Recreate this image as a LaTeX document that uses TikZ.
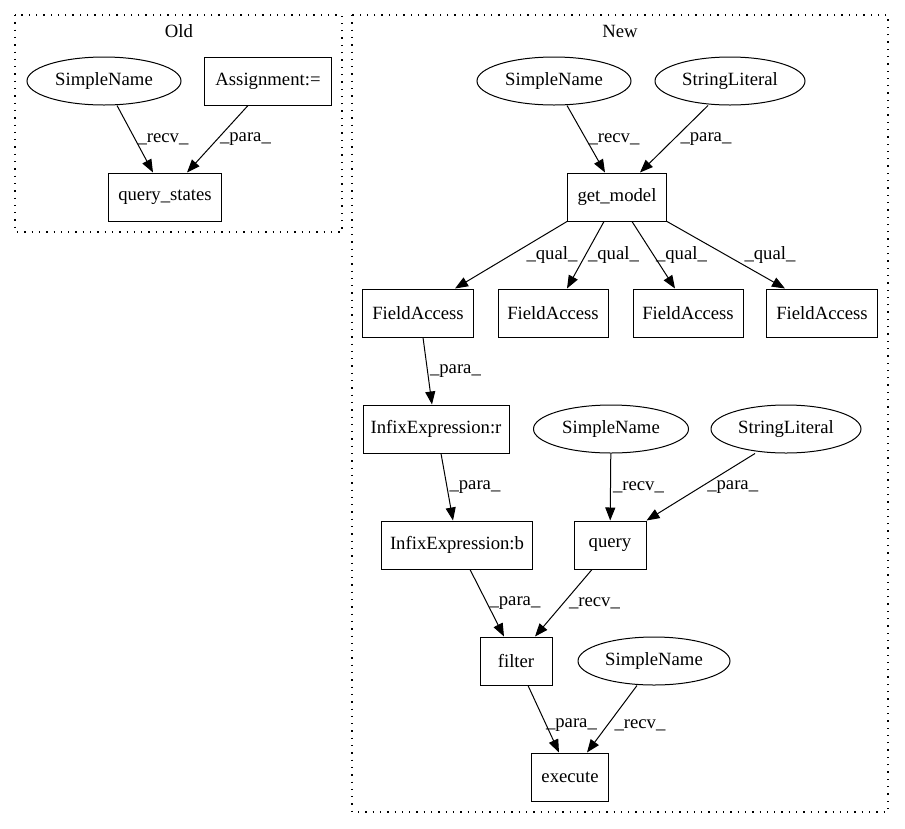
\documentclass[tikz,border=0pt]{standalone}
\usepackage{fontspec}
\setmainfont{Liberation Serif}
\usepackage{tikz}
\usetikzlibrary{shapes.geometric, arrows.meta}
\tikzset{
    every node/.style={font=\fontsize{18.7}{22}\selectfont}, % graphviz times 14pt, scaled
    box/.style={draw, line width=1pt, rectangle, minimum height=48pt, inner sep=0pt},
    oval/.style={draw, line width=1pt, ellipse, minimum height=48pt, inner sep=0pt},
    lbl/.style={anchor=west, inner sep=2pt},
    flow/.style={draw, ->, line width=1pt},
    cluster/.style={line width=1.1pt, dash pattern=on 1.3pt off 6pt},
    >={Triangle[length=13pt, width=10pt]},
}

\begin{document}
\begin{tikzpicture}[x=1pt, y=-1pt]
    \useasboundingbox (0,0) rectangle (905,828);

    % clusters
    \draw[cluster] (15,15) rectangle (342,232);
    \draw[cluster] (352,15) rectangle (888,812);
    \node (oldtitle) at (179,31) {Old};
    \node (newtitle) at (620,31) {New};

    % old
    \node[oval, minimum width=154pt] (oldsn) at (104,81) {SimpleName};
    \node[box, minimum width=127pt] (oldasg) at (268,81) {Assignment:=};
    \node[box, minimum width=113pt] (oldqs) at (165,197) {query\_states};

    % new
    \node[oval, minimum width=154pt] (newsn) at (554,81) {SimpleName};
    \node[oval, minimum width=150pt] (newsl) at (730,81) {StringLiteral};
    \node[box, minimum width=99pt] (getmodel) at (617,197) {get\_model};

    \node[box, minimum width=111pt] (fa1) at (418,313) {FieldAccess};
    \node[box, minimum width=110pt] (fa2) at (553,313) {FieldAccess};
    \node[box, minimum width=110pt] (fa3) at (688,313) {FieldAccess};
    \node[box, minimum width=111pt] (fa4) at (822,313) {FieldAccess};

    \node[box, minimum width=146pt] (infixr) at (436,429) {InfixExpression:r};
    \node[oval, minimum width=155pt] (querysn) at (611,429) {SimpleName};
    \node[oval, minimum width=150pt] (querysl) at (786,429) {StringLiteral};

    \node[box, minimum width=151pt] (infixb) at (457,545) {InfixExpression:b};
    \node[box, minimum width=72pt] (query) at (610,545) {query};

    \node[box, minimum width=72pt] (filter) at (516,661) {filter};
    \node[oval, minimum width=152pt] (execsn) at (654,661) {SimpleName};

    \node[box, minimum width=77pt] (execute) at (570,777) {execute};

    \path[every edge/.style=flow]
    ([xshift=13pt]oldsn.south) edge node[lbl]{\_recv\_} ([xshift=-12pt]oldqs.north)
    ([xshift=-20pt]oldasg.south) edge node[lbl]{\_para\_} ([xshift=22pt]oldqs.north)

    ([xshift=13pt]newsn.south) edge node[lbl]{\_recv\_} ([xshift=-12pt]getmodel.north)
    ([xshift=-22pt]newsl.south) edge node[lbl, xshift=4pt]{\_para\_} ([xshift=23pt]getmodel.north)

    (getmodel.south west) edge node[lbl, xshift=13pt]{\_qual\_} ([xshift=37pt]fa1.north)
    ([xshift=-13pt]getmodel.south) edge node[lbl]{\_qual\_} ([xshift=14pt]fa2.north)
    ([xshift=15pt]getmodel.south) edge node[lbl]{\_qual\_} ([xshift=-13pt]fa3.north)
    (getmodel.south east) edge node[lbl, xshift=16pt]{\_qual\_} ([xshift=-37pt]fa4.north)

    ([xshift=5pt]fa1.south) edge node[lbl]{\_para\_} ([xshift=-4pt]infixr.north)
    ([xshift=5pt]infixr.south) edge node[lbl]{\_para\_} ([xshift=-4pt]infixb.north)
    (querysn) edge node[lbl]{\_recv\_} (query)
    ([xshift=-31pt]querysl.south) edge node[lbl, xshift=4pt]{\_para\_} (query.north east)

    ([xshift=13pt]infixb.south) edge node[lbl]{\_para\_} ([xshift=-12pt]filter.north)
    ([xshift=-18pt]query.south) edge node[lbl, xshift=3pt]{\_recv\_} ([xshift=19pt]filter.north)

    ([xshift=12pt]filter.south) edge node[lbl, yshift=-6pt]{\_para\_} ([xshift=-11pt]execute.north)
    ([xshift=-17pt]execsn.south) edge node[lbl, yshift=-6pt]{\_recv\_} ([xshift=17pt]execute.north);
\end{tikzpicture}
\end{document}
